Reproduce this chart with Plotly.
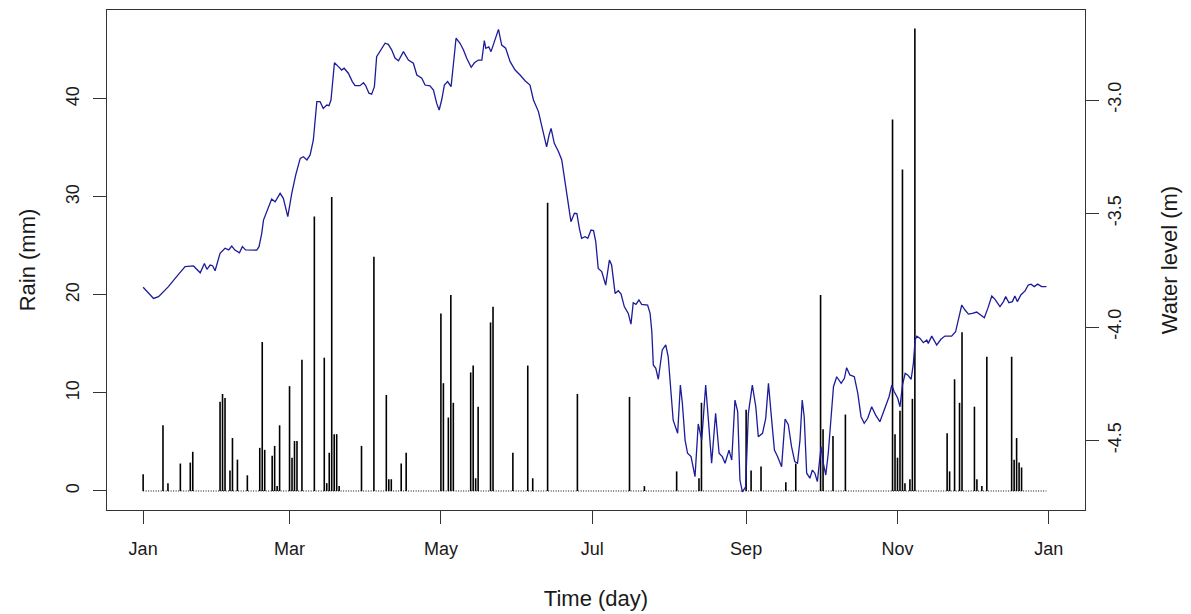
import pandas as pd
import plotly.graph_objects as go

# ---- data (day of year, 0 = 1 Jan) ----
rain_day = [0, 8, 10, 15, 19, 20, 31, 32, 33, 35, 36, 38, 42, 47, 48, 49, 52, 53, 54, 55,
            59, 60, 61, 62, 64, 69, 73, 74, 75, 76, 77, 78, 79, 88, 93, 98, 99, 100, 104, 106,
            120, 121, 123, 124, 125, 132, 133, 134, 135, 140, 141, 149, 155, 157, 163, 175, 196, 202,
            215, 224, 225, 243, 245, 249, 259, 263, 273, 274, 278, 283,
            302, 303, 304, 305, 306, 307, 309, 310, 311, 324, 325, 327, 329, 330, 335, 336, 338, 340,
            350, 351, 352, 353, 354]
rain_mm = [1.7, 6.7, 0.8, 2.8, 2.9, 4.0, 9.1, 9.9, 9.5, 2.1, 5.4, 3.2, 1.6, 4.4, 15.2, 4.2, 3.6, 4.6, 0.5, 6.7,
           10.7, 3.4, 5.1, 5.1, 13.4, 28.0, 13.6, 0.8, 3.9, 30.0, 5.8, 5.8, 0.5, 4.6, 23.9, 9.8, 1.2, 1.2, 2.8, 3.9,
           18.1, 11.0, 7.5, 20.0, 9.0, 12.1, 12.8, 1.3, 8.6, 17.2, 18.8, 3.9, 12.8, 1.3, 29.4, 9.9, 9.6, 0.5,
           2.0, 1.3, 9.0, 8.3, 2.1, 2.5, 0.9, 2.8, 20.0, 6.3, 5.6, 7.8,
           37.9, 5.8, 3.4, 8.2, 32.8, 0.8, 1.2, 9.4, 47.2, 5.9, 2.0, 11.4, 9.0, 16.2, 8.6, 1.2, 0.5, 13.7,
           13.7, 3.2, 5.4, 2.9, 2.4]

wl_day = [0, 4.2, 6.2, 10.2, 12.9, 16.9, 20.3, 23, 24.7, 25.7, 27, 28, 29, 31, 33, 34.5, 35.7, 37, 38.8, 40,
          41.3, 43.5, 45.8, 46.7, 47.8, 48.5, 49.5, 51.8, 53.2, 55.2, 56.5, 58.3, 59.9, 61.5, 63.3, 64.6, 66,
          67.3, 68.6, 70, 71.3, 72.6, 74, 74.9, 75.7, 77.1, 78.7, 80, 81, 82.7, 84.3, 85.4, 87.4, 88.8, 89.7,
          91, 92.1, 93.2, 94.1, 95.5, 97.5, 98.8, 100.2, 101.5, 102.9, 104.9, 106.9, 108.9, 110.3, 112.3,
          113.6, 115.6, 117, 118.3, 119.3, 120.3, 121.4, 122.7, 124.1, 125, 126.1, 127.7, 129.1, 130.4,
          132.2, 133.5, 135.1, 136.5, 137.5, 138.1, 139.3, 140.2, 141.5, 143.2, 144.5, 146.1, 147.9, 149.9,
          151.9, 153.9, 155.9, 157.3, 159.3, 160.6, 161.6, 162.6, 163.6, 164.4, 165.7, 167.4, 168.7, 169.8,
          171.1, 172.4, 173.8, 174.8, 175.8, 176.7, 178.1, 179.2, 180.5, 181.5, 182.4, 183.4, 184.8, 186.4,
          187.9, 188.8, 190.2, 191.5, 192.6, 193.9, 195.5, 196.6, 197.5, 198.6, 199.8, 200.9, 203.3, 204.3,
          205, 205.6, 206.6, 207.6, 209.2, 210.6, 211.6, 212.7, 213.6, 215.4, 216.5, 217.3, 218.4, 219.4,
          220.8, 222.4, 223.7, 225.1, 226.7, 227.8, 229.1, 230.7, 232.1, 233.4, 234.5, 236.1, 237.2, 238.5,
          239.6, 240.5, 241.5, 242.8, 243.9, 245.5, 246.9, 247.9, 249.6, 250.9, 252, 253.3, 254.4, 255.7,
          257.3, 258.7, 260, 261.3, 262.6, 263.7, 264.7, 265.6, 266.4, 267.4, 268.7, 269.7, 270.7, 271.7,
          273.2, 274.1, 275.1, 276.1, 277.2, 278.2, 279.5, 281.3, 282.6, 283.5, 284.8, 286.6, 288, 289.3,
          290.6, 292, 293.6, 295.2, 296.9, 298.3, 299.6, 300.6, 301.7, 302.7, 304.1, 305, 306, 307.1, 308.1,
          309.5, 310.4, 311.1, 311.8, 313.1, 314.4, 315.8, 316.4, 317.8, 319.8, 321.5, 323.1, 325.8, 327.4,
          328.5, 329.9, 331.2, 332.6, 334.2, 335.9, 337.5, 339, 340.4, 342, 343.3, 345.3, 346.7, 347.6,
          348.9, 350.3, 351.3, 352.3, 353.7, 355.4, 356.7, 357.8, 359.1, 360.5, 362.1, 364]
wl_m = [-3.825, -3.874, -3.866, -3.822, -3.786, -3.734, -3.731, -3.761, -3.72, -3.746, -3.727, -3.73, -3.752,
        -3.675, -3.653, -3.66, -3.643, -3.661, -3.673, -3.646, -3.66, -3.661, -3.661, -3.646, -3.587, -3.529,
        -3.50, -3.436, -3.448, -3.411, -3.433, -3.514, -3.411, -3.330, -3.257, -3.25, -3.264, -3.242, -3.176,
        -3.007, -3.007, -3.037, -3.022, -3.025, -3.0, -2.836, -2.853, -2.868, -2.86, -2.882, -2.919, -2.937,
        -2.937, -2.924, -2.937, -2.97, -2.974, -2.941, -2.809, -2.787, -2.75, -2.755, -2.78, -2.815, -2.827,
        -2.787, -2.824, -2.838, -2.89, -2.904, -2.934, -2.938, -2.956, -3.015, -3.044, -3.0, -2.934, -2.919,
        -2.941, -2.846, -2.728, -2.75, -2.78, -2.816, -2.856, -2.836, -2.824, -2.824, -2.738, -2.772, -2.766,
        -2.787, -2.743, -2.689, -2.758, -2.772, -2.831, -2.868, -2.89, -2.915, -2.934, -3.0, -3.051, -3.11,
        -3.162, -3.206, -3.154, -3.125, -3.191, -3.228, -3.264, -3.352, -3.441, -3.536, -3.499, -3.50, -3.565,
        -3.609, -3.602, -3.609, -3.573, -3.575, -3.624, -3.742, -3.756, -3.815, -3.705, -3.727, -3.852, -3.84,
        -3.855, -3.91, -3.94, -3.987, -3.893, -3.90, -3.881, -3.90, -3.903, -3.94, -4.021, -4.167, -4.182,
        -4.23, -4.101, -4.079, -4.131, -4.292, -4.41, -4.468, -4.256, -4.336, -4.498, -4.556, -4.571, -4.659,
        -4.427, -4.498, -4.256, -4.41, -4.60, -4.38, -4.556, -4.571, -4.60, -4.542, -4.586, -4.322, -4.373,
        -4.674, -4.726, -4.704, -4.38, -4.256, -4.351, -4.483, -4.468, -4.402, -4.248, -4.41, -4.542, -4.571,
        -4.615, -4.405, -4.43, -4.527, -4.593, -4.60, -4.498, -4.322, -4.395, -4.644, -4.666, -4.63, -4.644,
        -4.681, -4.527, -4.60, -4.652, -4.556, -4.38, -4.263, -4.219, -4.248, -4.226, -4.179, -4.211, -4.219,
        -4.292, -4.395, -4.424, -4.402, -4.351, -4.388, -4.417, -4.373, -4.329, -4.307, -4.256, -4.285,
        -4.314, -4.351, -4.256, -4.204, -4.211, -4.23, -4.16, -4.057, -4.04, -4.05, -4.069, -4.057, -4.072,
        -4.04, -4.079, -4.054, -4.04, -4.04, -4.021, -3.969, -3.903, -3.925, -3.943, -3.94, -3.934, -3.947,
        -3.959, -3.918, -3.863, -3.878, -3.91, -3.888, -3.866, -3.893, -3.888, -3.863, -3.888, -3.859,
        -3.841, -3.815, -3.811, -3.822, -3.811, -3.822, -3.822]

rain_ticks = [0, 10, 20, 30, 40]
level_ticks = [-3.0, -3.5, -4.0, -4.5]
level_tick_labels = ["-3.0", "-3.5", "-4.0", "-4.5"]

year_start = "2013-01-01"
first_day, last_day = 0, 364

base = pd.Timestamp(year_start)
to_date = lambda d: base + pd.to_timedelta(d, unit="D")

# rain drawn as vertical "h" lines from 0
rx, ry = [], []
for d, r in zip(rain_day, rain_mm):
    rx += [to_date(d), to_date(d), None]
    ry += [0, r, None]

fig = go.Figure()
fig.add_trace(go.Scatter(x=[to_date(first_day), to_date(last_day)], y=[0, 0], mode="lines",
                         line=dict(color="black", width=1, dash="1px,1.5px"), showlegend=False,
                         hoverinfo="skip"))
fig.add_trace(go.Scatter(x=rx, y=ry, mode="lines", line=dict(color="black", width=1.6),
                         showlegend=False, connectgaps=False))
fig.add_trace(go.Scatter(x=[to_date(d) for d in wl_day], y=wl_m, mode="lines",
                         line=dict(color="#1c1c9a", width=1.3), yaxis="y2", showlegend=False))

font = dict(family="Liberation Sans, Arial, sans-serif", size=18, color="#1a1a1a")
span = last_day - first_day
# page body adds an 8px offset, so the figure is 8px smaller and margins shifted accordingly
fig.update_layout(
    width=1183, height=606,
    margin=dict(l=99, r=106, t=2, b=104),
    paper_bgcolor="white", plot_bgcolor="white",
    font=font,
    xaxis=dict(type="date",
               range=[to_date(first_day - 0.04 * span), to_date(last_day + 0.04 * span + 1)],
               tick0=year_start, dtick="M2", tickformat="%b",
               ticks="outside", ticklen=13, tickcolor="#333", tickwidth=1,
               showline=True, linecolor="#333", linewidth=1, mirror=True,
               showgrid=False, zeroline=False, ticklabelstandoff=9, automargin=False,
               title=dict(text="Time (day)", standoff=33)),
    yaxis=dict(range=[-1.94, 49.08], tickvals=rain_ticks, tickangle=-90,
               ticks="outside", ticklen=13, tickcolor="#333", tickwidth=1,
               showline=True, linecolor="#333", linewidth=1, mirror=True,
               showgrid=False, zeroline=False, ticklabelstandoff=7, automargin=False,
               title=dict(text="Rain (mm)", standoff=21)),
    yaxis2=dict(range=[-4.806, -2.6035], overlaying="y", side="right",
                tickvals=level_ticks, ticktext=level_tick_labels, tickangle=-90,
                ticks="outside", ticklen=13, tickcolor="#333", tickwidth=1,
                showline=False, showgrid=False, zeroline=False, ticklabelstandoff=0, automargin=False,
                title=dict(text="Water level (m)", standoff=38)),
)

fig.write_html("out.html")
